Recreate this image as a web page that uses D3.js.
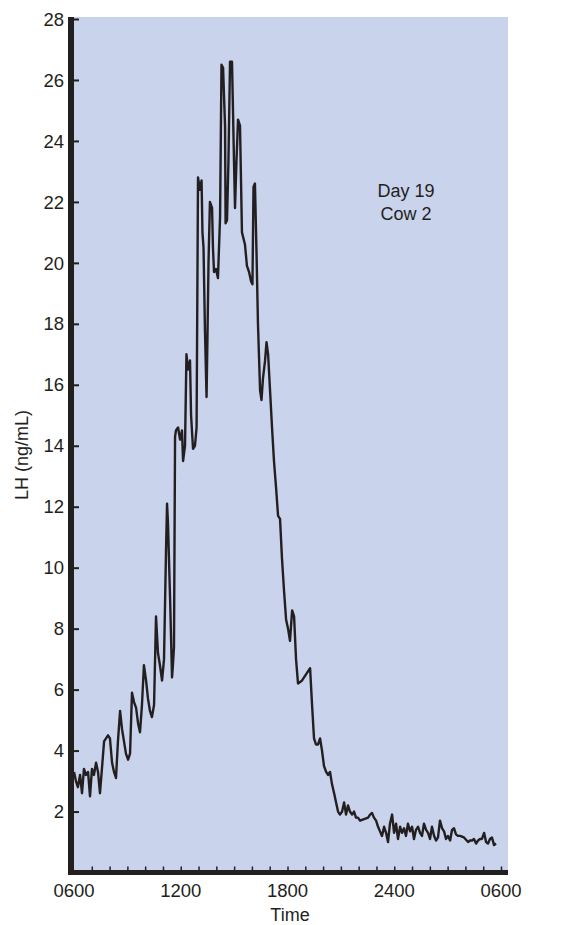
<!DOCTYPE html>
<html>
<head>
<meta charset="utf-8">
<script src="https://cdn.jsdelivr.net/npm/d3@7"></script>
<style>
  body { margin: 0; background: #ffffff; }
  text { font-family: "Liberation Sans", Arial, sans-serif; fill: #231f20; }
</style>
</head>
<body>
<div id="chart"></div>
<script>
// hours after 0600 and LH in ng/mL
var hours = [0.00,0.11,0.22,0.34,0.45,0.56,0.67,0.79,0.90,1.01,1.12,1.24,1.35,1.46,1.57,1.69,1.80,1.91,2.02,2.14,
  2.25,2.36,2.47,2.59,2.70,2.81,2.92,3.04,3.15,3.26,3.37,3.49,3.60,3.71,3.82,3.93,4.05,4.16,4.27,4.38,
  4.50,4.61,4.72,4.83,4.95,5.06,5.17,5.23,5.28,5.40,5.51,5.56,5.62,5.68,5.73,5.85,5.96,6.07,6.13,6.24,
  6.32,6.41,6.52,6.58,6.69,6.80,6.89,6.97,7.08,7.17,7.22,7.28,7.36,7.45,7.50,7.56,7.64,7.76,7.81,7.87,
  7.98,8.09,8.21,8.29,8.38,8.43,8.49,8.52,8.60,8.68,8.77,8.88,8.94,8.99,9.05,9.13,9.22,9.33,9.39,9.44,
  9.61,9.72,9.84,9.95,10.03,10.09,10.17,10.26,10.34,10.46,10.54,10.62,10.74,10.82,10.91,11.02,11.13,11.24,11.36,11.47,
  11.58,11.69,11.81,11.92,12.03,12.14,12.26,12.37,12.48,12.59,12.82,13.04,13.27,13.38,13.49,13.60,13.72,13.83,13.94,14.05,
  14.17,14.28,14.39,14.50,14.62,14.73,14.84,14.95,15.07,15.18,15.29,15.40,15.51,15.63,15.74,15.85,15.96,16.08,16.30,16.53,
  16.64,16.75,16.86,16.98,17.09,17.20,17.31,17.43,17.54,17.65,17.76,17.88,17.99,18.10,18.21,18.33,18.44,18.55,18.66,18.77,
  18.89,19.00,19.11,19.22,19.34,19.45,19.56,19.67,19.79,19.90,20.01,20.12,20.24,20.35,20.46,20.57,20.69,20.80,20.91,21.02,
  21.14,21.25,21.36,21.47,21.59,21.70,21.92,22.15,22.26,22.37,22.48,22.60,22.71,22.82,22.93,23.05,23.16,23.27,23.38,23.49,
  23.61,23.72];
var lh = [3.3,3.0,2.8,3.2,2.6,3.4,3.2,3.3,2.5,3.4,3.2,3.6,3.3,2.6,3.4,4.3,4.4,4.5,4.4,3.6,
  3.3,3.1,4.3,5.3,4.7,4.3,3.9,3.7,3.9,5.9,5.6,5.4,4.9,4.6,5.5,6.8,6.3,5.7,5.3,5.1,
  5.5,8.4,7.2,6.8,6.3,7.0,10.5,12.1,11.5,9.0,6.4,6.8,7.4,14.3,14.5,14.6,14.2,14.5,13.5,14.0,
  17.0,16.5,16.8,15.0,13.9,14.0,14.6,22.8,22.4,22.7,21.0,20.5,17.8,15.6,17.5,20.0,22.0,21.8,20.5,19.7,
  19.8,19.5,21.5,26.5,26.4,25.5,24.5,21.3,21.4,23.3,26.6,26.6,24.9,23.4,21.8,23.3,24.7,24.5,22.6,21.0,
  20.6,19.9,19.7,19.4,19.3,22.5,22.6,20.3,18.0,15.8,15.5,16.2,16.8,17.4,17.0,15.8,14.6,13.5,12.6,11.7,
  11.6,10.3,9.2,8.3,8.0,7.6,8.6,8.4,7.0,6.2,6.3,6.5,6.7,5.5,4.4,4.2,4.2,4.4,4.0,3.5,
  3.3,3.2,3.3,2.9,2.6,2.3,2.0,1.9,2.0,2.3,1.9,2.2,2.0,1.9,2.0,1.8,1.8,1.7,1.75,1.8,
  1.9,1.95,1.8,1.7,1.5,1.35,1.2,1.5,1.3,1.0,1.6,1.9,1.3,1.6,1.1,1.5,1.3,1.45,1.2,1.6,
  1.35,1.5,1.1,1.4,1.5,1.3,1.2,1.6,1.4,1.3,1.1,1.5,1.2,1.05,1.15,1.7,1.45,1.35,1.1,1.2,
  1.05,1.4,1.45,1.25,1.2,1.2,1.15,1.0,1.05,1.05,1.1,0.95,1.05,1.1,1.1,1.3,1.0,0.95,1.1,1.15,
  0.9,0.95];

var yTicks = [2,4,6,8,10,12,14,16,18,20,22,24,26,28];
var xTickHours = [0,6,12,18,24];
var xTickLabels = ["0600","1200","1800","2400","0600"];
var hourTicks = d3.range(1, 25); // small marks every hour

var w = 564, h = 925;

var svg = d3.select("#chart").append("svg")
    .attr("width", w)
    .attr("height", h);

var x = d3.scaleLinear().domain([0, 24]).range([74, 501]);
var y = d3.scaleLinear().domain([0, 28]).range([872.5, 19]);

// shaded plot area
svg.append("rect")
    .attr("x", 74)
    .attr("y", 17)
    .attr("width", 508 - 74)
    .attr("height", 872 - 17)
    .style("fill", "#c9d3eb");

// the trace
var line = d3.line()
    .x((d, i) => x(hours[i]))
    .y(d => y(d));

svg.append("path")
    .datum(lh)
    .attr("d", line)
    .style("fill", "none")
    .style("stroke", "#231f20")
    .style("stroke-width", 2.4)
    .style("stroke-linejoin", "round");

// left axis, thick line with ticks pointing inward
var yAxis = svg.append("g")
    .attr("transform", "translate(71,0)")
    .call(d3.axisRight(y).tickValues(yTicks).tickSize(8).tickFormat(""));
yAxis.select(".domain").remove();
yAxis.selectAll("line").style("stroke", "#231f20").style("stroke-width", 2);

svg.append("line")
    .attr("x1", 71).attr("x2", 71)
    .attr("y1", 17).attr("y2", 875)
    .style("stroke", "#231f20")
    .style("stroke-width", 6);

svg.selectAll(".ylab")
    .data(yTicks)
    .enter()
    .append("text")
    .attr("class", "ylab")
    .attr("x", 64)
    .attr("y", d => y(d))
    .attr("dy", "0.36em")
    .attr("text-anchor", "end")
    .style("font-size", "18.5px")
    .text(d => d);

// bottom axis
var xAxis = svg.append("g")
    .attr("transform", "translate(0,872.5)")
    .call(d3.axisTop(x).tickValues(hourTicks).tickSize(6).tickFormat(""));
xAxis.select(".domain").remove();
xAxis.selectAll("line").style("stroke", "#231f20").style("stroke-width", 1.5);

svg.append("line")
    .attr("x1", 68).attr("x2", 508)
    .attr("y1", 872.5).attr("y2", 872.5)
    .style("stroke", "#231f20")
    .style("stroke-width", 5);

svg.selectAll(".xlab")
    .data(xTickHours)
    .enter()
    .append("text")
    .attr("class", "xlab")
    .attr("x", d => x(d))
    .attr("y", 897)
    .attr("text-anchor", "middle")
    .style("font-size", "18.5px")
    .text((d, i) => xTickLabels[i]);

// axis titles
svg.append("text")
    .attr("x", 290)
    .attr("y", 921)
    .attr("text-anchor", "middle")
    .style("font-size", "18px")
    .text("Time");

svg.append("text")
    .attr("transform", "translate(28,455) rotate(-90)")
    .attr("text-anchor", "middle")
    .style("font-size", "18px")
    .text("LH (ng/mL)");

// annotation
svg.append("text")
    .attr("x", 406)
    .attr("y", 197)
    .attr("text-anchor", "middle")
    .style("font-size", "18px")
    .text("Day 19");

svg.append("text")
    .attr("x", 406)
    .attr("y", 220)
    .attr("text-anchor", "middle")
    .style("font-size", "18px")
    .text("Cow 2");
</script>
</body>
</html>
